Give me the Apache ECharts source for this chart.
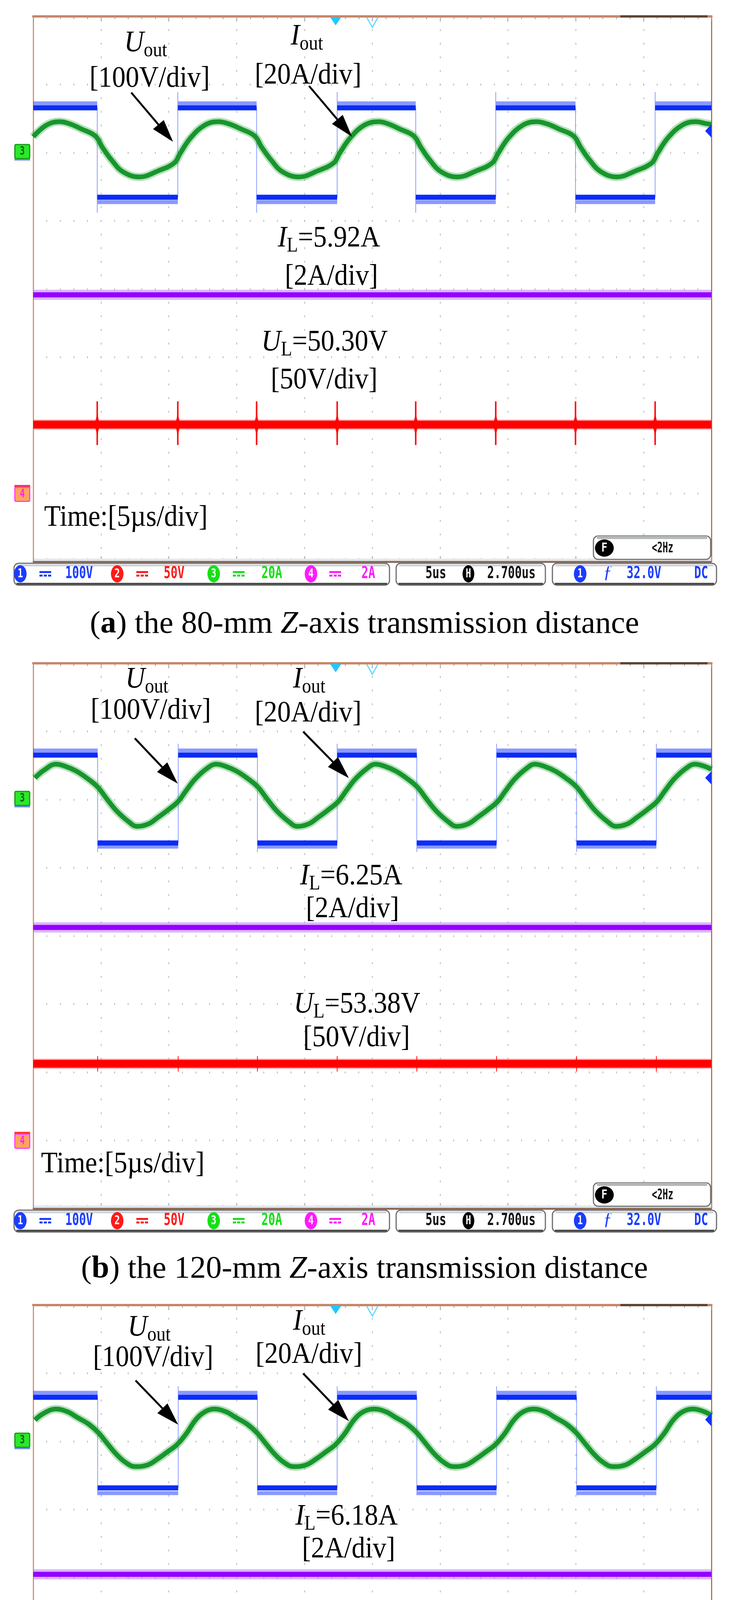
<!DOCTYPE html>
<html>
<head>
<meta charset="utf-8">
<title>Oscilloscope waveforms</title>
<script src="https://cdn.jsdelivr.net/npm/echarts@6.0.0/dist/echarts.min.js"></script>
<style>
html,body{margin:0;padding:0;background:#ffffff;}
#chart{width:1866px;height:4967px;}
</style>
</head>
<body>
<div id="chart"></div>
<script>
// ================= DATA =================
const captionLetter = ['a', 'b', 'c'];
const captionDistance = ['80', '120', '150'];
const ilLabel = ['5.92', '6.25', '6.18'];
const ulLabel = ['50.30', '53.38', '52.35'];
const freqReadout = ['<2Hz', '<2Hz', '85.0381kHz'];
const channelScaleText = ['100V', '50V', '20A', '2A'];
const timebaseText = '5us';
const hPositionText = '2.700us';
const triggerText = '32.0V';
const triggerCoupling = 'DC';

// units per division and ground offset (divisions from screen centre)
const scaleUout = 100, scaleUL = 50, scaleIout = 20, scaleIL = 2;
const groundUout = 2, groundUL = -3, groundIout = 2, groundIL = -3;
const triggerLevel = 32.0;   // V, channel 1
const hPosition = 2.7;       // us
const timeMin = 0, timeMax = 50, timeDiv = 5;   // us

// Uout square wave: switching instants (us), first one is a falling edge
const uEdges = [
  [4.72, 10.66, 16.47, 22.41, 28.20, 34.10, 39.98, 45.85],
  [4.75, 10.69, 16.53, 22.41, 28.28, 34.16, 40.06, 45.94],
  [4.75, 10.69, 16.53, 22.41, 28.28, 34.16, 40.06, 45.94]
];
const uHigh = [65.9, 65.3, 64.8];
const uLow = [-65.3, -63.6, -68.2];
const uHighNoise = [72.5, 72.0, 71.3];
const uLowNoise = [-72.5, -69.0, -76.0];
const uRiseSpike = [89, 82, 81];
const uFallSpike = [-88, -77, -79];

// Iout (A) vs time (us)
const iOutA = [
  [0.00,4.7],[0.98,8.1],[1.93,9.1],[2.68,8.5],[3.54,7.0],[4.58,4.9],[5.10,1.6],[5.79,-2.2],[6.62,-5.6],[7.83,-7.1],[9.22,-5.3],[10.40,-3.0],[10.83,-0.2],[11.61,4.4],[12.65,8.1],
  [13.65,9.1],[14.40,8.5],[15.30,7.0],[16.33,4.9],[16.85,1.6],[17.55,-2.2],[18.38,-5.6],[19.59,-7.1],[20.98,-5.3],[22.15,-3.0],[22.58,-0.2],[23.38,4.4],[24.42,8.1],
  [25.46,9.1],[26.15,8.5],[27.00,7.0],[28.06,4.9],[28.58,1.6],[29.25,-2.2],[30.08,-5.6],[31.28,-7.1],[32.68,-5.3],[33.84,-3.0],[34.27,-0.2],[35.05,4.4],[36.10,8.1],
  [37.10,9.1],[37.85,8.5],[38.75,7.0],[39.84,4.9],[40.36,1.6],[41.03,-2.2],[41.86,-5.6],[43.03,-7.1],[44.42,-5.3],[45.60,-3.0],[46.02,-0.2],[46.80,4.4],[47.85,8.1],
  [48.85,9.1],[49.55,8.6],[50.00,8.3]
];
const iOutB = [
  [0.12,6.35],[0.80,8.65],[1.67,10.4],[2.35,9.8],[3.20,8.3],[4.06,6.0],[4.75,3.7],[5.43,0.2],[6.12,-3.2],[6.98,-6.3],[7.66,-7.85],[8.51,-7.1],[9.20,-5.2],[9.88,-3.2],[10.67,-0.6],[11.25,2.5],[11.93,6.0],[12.79,9.1],
  [13.48,10.4],[14.16,9.8],[15.01,8.3],[15.87,6.0],[16.56,3.7],[17.24,0.2],[17.93,-3.2],[18.79,-6.3],[19.47,-7.85],[20.32,-7.1],[21.01,-5.2],[21.69,-3.2],[22.48,-0.6],[23.06,2.5],[23.74,6.0],[24.60,9.1],
  [25.23,10.4],[25.91,9.8],[26.76,8.3],[27.62,6.0],[28.31,3.7],[28.99,0.2],[29.68,-3.2],[30.54,-6.3],[31.22,-7.85],[32.07,-7.1],[32.76,-5.2],[33.44,-3.2],[34.23,-0.6],[34.81,2.5],[35.49,6.0],[36.35,9.1],
  [36.98,10.4],[37.66,9.8],[38.51,8.3],[39.37,6.0],[40.06,3.7],[40.74,0.2],[41.43,-3.2],[42.29,-6.3],[42.97,-7.85],[43.82,-7.1],[44.51,-5.2],[45.19,-3.2],[45.98,-0.6],[46.56,2.5],[47.24,6.0],[48.10,9.1],
  [48.79,10.4],[49.47,9.8],[50.00,8.9]
];
const iOutC = [
  [0.12,6.28],[0.80,8.3],[1.67,9.5],[2.53,8.7],[3.22,7.1],[4.08,5.1],[4.77,2.7],[5.45,-0.55],[6.14,-3.8],[6.82,-6.2],[7.51,-7.4],[8.37,-7.0],[9.23,-5.0],[9.92,-3.0],[10.60,-0.95],[11.29,2.3],[11.97,6.3],[12.66,8.7],
  [13.35,9.5],[14.21,8.7],[14.90,7.1],[15.76,5.1],[16.45,2.7],[17.13,-0.55],[17.82,-3.8],[18.50,-6.2],[19.19,-7.4],[20.05,-7.0],[20.91,-5.0],[21.60,-3.0],[22.28,-0.95],[22.97,2.3],[23.65,6.3],[24.34,8.7],
  [25.14,9.5],[26.00,8.7],[26.69,7.1],[27.55,5.1],[28.24,2.7],[28.92,-0.55],[29.61,-3.8],[30.29,-6.2],[30.98,-7.4],[31.84,-7.0],[32.70,-5.0],[33.39,-3.0],[34.07,-0.95],[34.76,2.3],[35.44,6.3],[36.13,8.7],
  [36.89,9.5],[37.75,8.7],[38.44,7.1],[39.30,5.1],[39.99,2.7],[40.67,-0.55],[41.36,-3.8],[42.04,-6.2],[42.73,-7.4],[43.59,-7.0],[44.45,-5.0],[45.14,-3.0],[45.82,-0.95],[46.51,2.3],[47.19,6.3],[47.88,8.7],
  [48.62,9.5],[49.48,8.7],[50.00,7.6]
];
const iOut = [iOutA, iOutB, iOutC];

// DC traces (A and V as displayed) and UL switching spikes (V)
const ilTrace = [5.83, 6.25, 6.10];
const ulTrace = [50.6, 56.2, 52.7];
const ulSpikeUp = [67.6, 61.9, 57.6];
const ulSpikeDown = [35.6, 50.5, 47.8];

// ================= LAYOUT / STYLE =================
const GL = 85, GW = 1736, GH = 1396;
const panelTop = [42, 1698, 3341];
const layout = [
  {U:[318,95], Ub:[229,186], I:[744,78], Ib:[652,178], arrU:[[336,195],[443,321]], arrI:[[791,178],[901,308]],
   IL:[711,595], ILb:[729,693], UL:[669,861], ULb:[693,958], time:[113,1310], cap:1584, diamond:[14,58], spikeW:4},
  {U:[321,68], Ub:[232,148], I:[750,68], Ib:[652,155], arrU:[[345,192],[455,308]], arrI:[[776,175],[893,294]],
   IL:[768,572], ILb:[783,656], UL:[752,900], ULb:[776,986], time:[105,1309], cap:1579, diamond:[7,28], spikeW:2},
  {U:[327,84], Ub:[238,162], I:[750,69], Ib:[654,154], arrU:[[347,193],[456,306]], arrI:[[776,175],[893,297]],
   IL:[756,568], ILb:[773,652], UL:[752,920], ULb:[773,1004], time:[105,1330], cap:1587, diamond:[8,32], spikeW:2}
];
const SERIF = '"Liberation Serif","Times New Roman",serif';
const MONO = '"DejaVu Sans Mono",monospace';
const SX = 0.9;

const toDiv = (v, scale, ground) => v / scale + ground;
const xPix = t => GL + (t - timeMin) / (timeMax - timeMin) * GW;
const yPix = (p, d) => panelTop[p] + (4 - d) / 8 * GH;

const mctx = document.createElement('canvas').getContext('2d');
function measure(t, font) { mctx.font = font; return mctx.measureText(t).width; }

const G = [];
function txt(x, base, t, font, fs, fill, sx, align) {
  G.push({type:'text', x:x, y:base - 0.34 * fs, scaleX:sx || 1, silent:true, z:100,
    style:{text:t, font:font, fill:fill || '#000', align:align || 'left', verticalAlign:'middle',
           textAlign:align || 'left', textVerticalAlign:'middle'}});
}
function serifRun(x, base, parts, size, sx, draw) {
  let cx = x;
  parts.forEach(([t, st]) => {
    const fs = st === 'sub' ? Math.round(size * 0.68) : size;
    const font = (st === 'i' ? 'italic ' : '') + (st === 'b' ? 'bold ' : '') + fs + 'px ' + SERIF;
    const b = st === 'sub' ? base + size * 0.14 : base;
    if (draw !== false) txt(cx, b, t, font, fs, '#000', sx);
    cx += measure(t, font) * sx;
  });
  return cx - x;
}
function arrow(p0, p1, w, headL, headW) {
  const dx = p1[0] - p0[0], dy = p1[1] - p0[1], L = Math.hypot(dx, dy);
  const ux = dx / L, uy = dy / L, nx = -uy, ny = ux;
  const bx = p1[0] - ux * headL, by = p1[1] - uy * headL;
  G.push({type:'line', silent:true, z:100, shape:{x1:p0[0], y1:p0[1], x2:bx + ux * 4, y2:by + uy * 4},
    style:{stroke:'#000', lineWidth:w}});
  G.push({type:'polygon', silent:true, z:100, shape:{points:[[p1[0], p1[1]], [bx + nx * headW, by + ny * headW], [bx - nx * headW, by - ny * headW]]},
    style:{fill:'#000'}});
}
function rect(x, y, w, h, fill, extra) {
  G.push(Object.assign({type:'rect', silent:true, z:90, shape:{x:x, y:y, width:w, height:h}, style:{fill:fill}}, extra || {}));
}
function mono(x, yc, t, color, fs, sx, align, weight) {
  const font = (weight || 'bold') + ' ' + fs + 'px ' + MONO;
  G.push({type:'text', x:x, y:yc, scaleX:sx, silent:true, z:110,
    style:{text:t, font:font, fill:color, align:align || 'left', verticalAlign:'middle',
           textAlign:align || 'left', textVerticalAlign:'middle'}});
}
function oval(cx, cy, rx, ry, fill, digit, dColor) {
  G.push({type:'ellipse', silent:true, z:105, shape:{cx:cx, cy:cy, rx:rx, ry:ry}, style:{fill:fill}});
  mono(cx, cy + 1, digit, dColor || '#fff', 32, 0.72, 'center', 'bold');
}
function dcSym(x, yc, color) {
  rect(x, yc - 7, 30, 5, color, {z:105});
  for (let k = 0; k < 3; k++) rect(x + k * 11, yc + 2, 8, 5, color, {z:105});
}
function box(x, y, w, h) {
  G.push({type:'rect', silent:true, z:100, shape:{x:x, y:y, width:w, height:h, r:12},
    style:{fill:'#ffffff', stroke:'#6e6e6e', lineWidth:3}});
  rect(x + 8, y + 3, w - 16, 5, '#cfd4d8', {z:101});
  rect(x + 6, y + h - 6, w - 12, 5, '#4d4d4d', {z:101});
}
function marker(cy, fill, stroke, digit, dColor, under, underPos) {
  if (under) rect(37, underPos === 'top' ? cy - 24 : cy + 16, 40, 7, under, {z:104});
  G.push({type:'rect', silent:true, z:105, shape:{x:38, y:cy - 18, width:38, height:36, r:3},
    style:{fill:fill, stroke:stroke, lineWidth:3}});
  mono(57, cy, digit, dColor, 30, 0.7, 'center', 'bold');
}

// ================= BUILD =================
const grids = [], xAxes = [], yAxes = [], series = [];
const dotGray = '#b5b5b5', tickGray = '#9d9d9d';

function squareWave(edges, hi, lo, sHi, sLo) {
  const d = [[timeMin, hi]]; let high = true;
  edges.forEach(e => {
    if (high) d.push([e, hi], [e, sLo], [e, lo]); else d.push([e, lo], [e, sHi], [e, hi]);
    high = !high;
  });
  d.push([timeMax, high ? hi : lo]);
  return d;
}
function bands(edges, hi, lo) {
  const d = []; let s = timeMin, high = true;
  edges.forEach(e => { const v = high ? hi : lo; d.push([s, v], [e, v], [e, null]); s = e; high = !high; });
  d.push([s, high ? hi : lo], [timeMax, high ? hi : lo]);
  return d;
}
const lineBase = (p, extra) => Object.assign({type:'line', xAxisIndex:p * 2, yAxisIndex:p * 2, showSymbol:false,
  symbol:'none', silent:true, animation:false, connectNulls:false}, extra);

for (let p = 0; p < 3; p++) {
  const top = panelTop[p], bottom = top + GH, L = layout[p];
  grids.push({left:GL, top:top, width:GW, height:GH, show:false});
  const xCommon = {gridIndex:p, type:'value', min:timeMin, max:timeMax, interval:timeDiv, axisLabel:{show:false}};
  xAxes.push(Object.assign({}, xCommon, {position:'bottom',
    axisLine:{show:true, onZero:false, lineStyle:{color:'#a8887a', width:4}},
    axisTick:{show:true, inside:true, length:14, lineStyle:{color:tickGray, width:2}},
    minorTick:{show:true, splitNumber:5, length:9, lineStyle:{color:tickGray, width:2}},
    splitLine:{show:true, lineStyle:{color:dotGray, width:2, type:[5, GH / 40 - 5], dashOffset:2.5}}}));
  xAxes.push(Object.assign({}, xCommon, {position:'top',
    axisLine:{show:true, onZero:false, lineStyle:{color:'#c8866a', width:6}},
    axisTick:{show:true, inside:true, length:13, lineStyle:{color:tickGray, width:2}},
    minorTick:{show:true, splitNumber:5, length:7, lineStyle:{color:tickGray, width:2}},
    splitLine:{show:false}}));
  const yCommon = {gridIndex:p, type:'value', min:-4, max:4, interval:1, axisLabel:{show:false}, axisTick:{show:false}};
  yAxes.push(Object.assign({}, yCommon, {position:'left',
    axisLine:{show:true, onZero:false, lineStyle:{color:'#d4946f', width:3}},
    splitLine:{show:true, lineStyle:{color:dotGray, width:5, type:[2, GW / 50 - 2], dashOffset:1}}}));
  yAxes.push(Object.assign({}, yCommon, {position:'right',
    axisLine:{show:true, onZero:false, lineStyle:{color:'#a8745f', width:3}}, splitLine:{show:false}}));

  const du = v => toDiv(v, scaleUout, groundUout);
  const edges = uEdges[p];
  // Uout (blue)
  series.push(lineBase(p, {z:3, lineStyle:{color:'rgba(40,70,255,0.55)', width:10},
    data:bands(edges, du(uHighNoise[p]), du(uLowNoise[p]))}));
  series.push(lineBase(p, {z:3, lineStyle:{color:'#8ea1ff', width:2},
    data:squareWave(edges, du(uHigh[p]), du(uLow[p]), du(uRiseSpike[p]), du(uFallSpike[p]))}));
  series.push(lineBase(p, {z:4, lineStyle:{color:'#0b2cf5', width:13},
    data:bands(edges, du(uHigh[p]), du(uLow[p]))}));
  // Iout (green)
  const gi = iOut[p].map(d => [d[0], toDiv(d[1], scaleIout, groundIout)]);
  series.push(lineBase(p, {z:5, smooth:0.4, lineStyle:{color:'rgba(50,165,70,0.35)', width:21}, data:gi}));
  series.push(lineBase(p, {z:6, smooth:0.4, lineStyle:{color:'#17962c', width:12}, data:gi}));
  // IL (purple)
  const il = toDiv(ilTrace[p], scaleIL, groundIL);
  series.push(lineBase(p, {z:5, lineStyle:{color:'rgba(190,120,255,0.55)', width:26}, data:[[timeMin, il], [timeMax, il]]}));
  series.push(lineBase(p, {z:6, lineStyle:{color:'#9400ff', width:13}, data:[[timeMin, il], [timeMax, il]]}));
  // UL (red)
  const dl = v => toDiv(v, scaleUL, groundUL);
  const ul = dl(ulTrace[p]);
  series.push(lineBase(p, {z:5, lineStyle:{color:'rgba(255,90,90,0.5)', width:26}, data:[[timeMin, ul], [timeMax, ul]]}));
  series.push(lineBase(p, {z:6, lineStyle:{color:'#ff0000', width:20}, data:[[timeMin, ul], [timeMax, ul]]}));
  const sp = [];
  edges.forEach(e => sp.push([e, dl(ulSpikeUp[p])], [e, dl(ulSpikeDown[p])], [e, null]));
  series.push(lineBase(p, {z:6, lineStyle:{color:'#ff1010', width:L.spikeW}, data:sp}));
  series.push({type:'scatter', xAxisIndex:p * 2, yAxisIndex:p * 2, silent:true, animation:false, z:7,
    symbol:'diamond', symbolSize:L.diamond, itemStyle:{color:'#ff0000'}, data:edges.map(e => [e, ul])});

  // ---- frame decorations ----
  rect(1588, top - 3, 223, 6, '#5f4535', {z:95});
  const tf = xPix((timeMax + timeMin) / 2 - hPosition), tc = xPix((timeMax + timeMin) / 2);
  G.push({type:'polygon', silent:true, z:96, shape:{points:[[tf - 14, top + 2], [tf + 14, top + 2], [tf, top + 23]]}, style:{fill:'#20c8ff'}});
  G.push({type:'polyline', silent:true, z:96, shape:{points:[[tc - 14, top + 3], [tc, top + 28], [tc + 14, top + 3]]}, style:{stroke:'#60d8ff', lineWidth:3}});
  const tl = yPix(p, toDiv(triggerLevel, scaleUout, groundUout));
  G.push({type:'polygon', silent:true, z:96, shape:{points:[[GL + GW - 16, tl], [GL + GW, tl - 17], [GL + GW, tl + 17]]}, style:{fill:'#1030ff'}});
  rect(GL + 2, bottom - 8, GW - 4, 6, '#e2e7eb', {z:1});
  // channel markers
  marker(yPix(p, groundIout) - 3, '#2ae82a', '#139a13', '3', '#0b5e0b', '#7d8bff', 'bottom');
  marker(yPix(p, groundIL) + 2, '#ffa45e', '#ff3cff', '4', '#ff20ff', '#ff3030', 'top');

  // ---- annotations ----
  const U = L.U, I = L.I;
  serifRun(U[0], top + U[1], [['U', 'i'], ['out', 'sub']], 77, SX);
  serifRun(L.Ub[0], top + L.Ub[1], [['[100V/div]', 'r']], 77, SX);
  serifRun(I[0], top + I[1], [['I', 'i'], ['out', 'sub']], 77, SX);
  serifRun(L.Ib[0], top + L.Ib[1], [['[20A/div]', 'r']], 77, SX);
  arrow([L.arrU[0][0], top + L.arrU[0][1]], [L.arrU[1][0], top + L.arrU[1][1]], 5, 58, 18);
  arrow([L.arrI[0][0], top + L.arrI[0][1]], [L.arrI[1][0], top + L.arrI[1][1]], 5, 58, 18);
  serifRun(L.IL[0], top + L.IL[1], [['I', 'i'], ['L', 'sub'], ['=' + ilLabel[p] + 'A', 'r']], 77, SX);
  serifRun(L.ILb[0], top + L.ILb[1], [['[2A/div]', 'r']], 77, SX);
  serifRun(L.UL[0], top + L.UL[1], [['U', 'i'], ['L', 'sub'], ['=' + ulLabel[p] + 'V', 'r']], 77, SX);
  serifRun(L.ULb[0], top + L.ULb[1], [['[50V/div]', 'r']], 77, SX);
  serifRun(L.time[0], top + L.time[1], [['Time:[5\u00b5s/div]', 'r']], 77, SX);

  // ---- frequency readout box ----
  G.push({type:'rect', silent:true, z:100, shape:{x:1519, y:bottom - 66, width:300, height:60, r:12},
    style:{fill:'#ffffff', stroke:'#707070', lineWidth:3}});
  rect(1528, bottom - 66, 282, 8, '#b5b8ba', {z:101});
  G.push({type:'ellipse', silent:true, z:105, shape:{cx:1547, cy:bottom - 35, rx:24, ry:22}, style:{fill:'#000'}});
  mono(1547, bottom - 34, 'F', '#fff', 32, 0.8, 'center', 'bold');
  mono(1696, bottom - 34, freqReadout[p], '#111', 38, 0.6, 'center');

  // ---- status bar ----
  rect(GL, bottom - 2, GW, 5, '#8d6b5a', {z:99});
  const by = bottom + 4, bh = 56, yc = by + 27;
  box(36, by, 961, bh); box(1014, by, 382, bh); box(1414, by, 420, bh);
  const chColors = ['#1a3cff', '#ff1a1a', '#16e016', '#ff1aff'];
  const ovalX = [52, 300, 547, 796], dcX = [101, 349, 596, 843], valX = [167, 419, 669, 925];
  for (let c = 0; c < 4; c++) {
    oval(ovalX[c], yc, 16, 22, chColors[c], String(c + 1));
    dcSym(dcX[c], yc, chColors[c]);
    mono(valX[c], yc, channelScaleText[c], chColors[c], 42, 0.7);
  }
  mono(1089, yc, timebaseText, '#111', 42, 0.7);
  oval(1199, yc, 15, 22, '#000', 'H');
  mono(1247, yc, hPositionText, '#111', 42, 0.7);
  oval(1485, yc, 16, 22, '#1a3cff', '1');
  serifRun(1544, yc + 14, [['\u0192', 'i']], 46, 1);
  G[G.length - 1].style.fill = '#1a3cff';
  mono(1604, yc, triggerText, '#1a3cff', 42, 0.7);
  mono(1777, yc, triggerCoupling, '#1a3cff', 42, 0.7);

  // ---- caption ----
  const capParts = [['(', 'r'], [captionLetter[p], 'b'], [') the ' + captionDistance[p] + '-mm ', 'r'], ['Z', 'i'], ['-axis transmission distance', 'r']];
  const cw = serifRun(0, 0, capParts, 81, 1, false);
  serifRun(933 - cw / 2, top + L.cap, capParts, 81, 1);
}

const chart = echarts.init(document.getElementById('chart'), null, {renderer:'canvas', width:1866, height:4967});
chart.setOption({
  backgroundColor:'#ffffff',
  animation:false,
  grid:grids,
  xAxis:xAxes,
  yAxis:yAxes,
  series:series,
  graphic:{elements:G}
});
</script>
</body>
</html>
